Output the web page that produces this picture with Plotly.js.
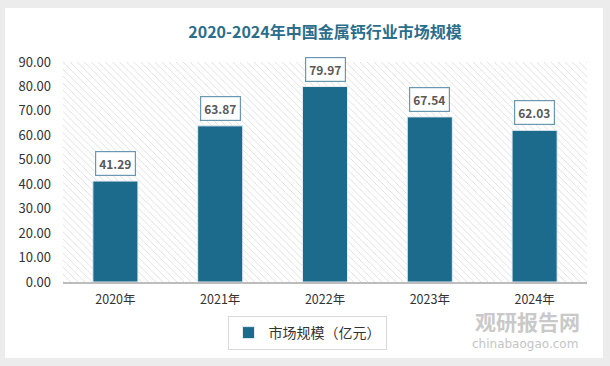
<!DOCTYPE html>
<html><head><meta charset="utf-8">
<script src="https://cdn.plot.ly/plotly-3.0.1.min.js"></script>
<style>html,body{margin:0;padding:0;background:#ececec}#c{width:610px;height:366px}</style>
</head><body><div id="c"></div>
<script>
const categories = ['2020年','2021年','2022年','2023年','2024年'];
const values = [41.29, 63.87, 79.97, 67.54, 62.03];
const seriesName = '市场规模（亿元）';
const titleText = '2020-2024年中国金属钙行业市场规模';
const yMax = 90;

const W = 610, H = 366;
const font = '"Noto Sans CJK SC", "Noto Sans", sans-serif';
const barColor = '#1c6a8c';

const bg = {
  type: 'bar', x: categories, y: categories.map(() => yMax), width: 1,
  marker: {color: '#ffffff', line: {width: 0},
    pattern: {shape: '\\', fgcolor: '#d6d6d6', bgcolor: '#ffffff', size: 5, solidity: 0.15}},
  showlegend: false, hoverinfo: 'skip'
};
const bars = {
  type: 'bar', x: categories, y: values, name: seriesName, width: 0.43,
  marker: {color: barColor, line: {color: '#e4ecf0', width: 1}},
  hoverinfo: 'skip'
};

const annotations = values.map((v, i) => ({
  x: categories[i], y: v, xref: 'x', yref: 'y', yanchor: 'bottom', yshift: 5,
  text: '<b>' + v.toFixed(2) + '</b>', showarrow: false,
  font: {family: font, size: 12, color: '#595959'},
  bgcolor: '#ffffff', bordercolor: '#6a98b0', borderwidth: 1.2, borderpad: 3
}));
annotations.push({
  xref: 'paper', yref: 'paper', x: (527 - 63) / 524, y: -(321 - 282) / 220,
  text: '<b>观研报告网</b>', showarrow: false, xanchor: 'center', yanchor: 'middle',
  font: {family: font, size: 21, color: '#c9c9c9'}, borderpad: 0
});
annotations.push({
  xref: 'paper', yref: 'paper', x: (525 - 63) / 524, y: -(344 - 282) / 220,
  text: 'chinabaogao.com', showarrow: false, xanchor: 'center', yanchor: 'middle',
  font: {family: '"DejaVu Sans", sans-serif', size: 12, color: '#c4c4c4'}, borderpad: 0
});

const layout = {
  width: W, height: H,
  paper_bgcolor: '#ececec', plot_bgcolor: 'rgba(0,0,0,0)',
  margin: {l: 63, r: 23, t: 62, b: 84},
  barmode: 'overlay',
  title: {text: '<b>' + titleText + '</b>', x: 0.5, xanchor: 'center', xref: 'paper',
    y: 1 - 32 / H, yanchor: 'middle',
    font: {family: font, size: 16, color: '#2b6d8c'}},
  xaxis: {type: 'category', showgrid: false, zeroline: false, showline: true,
    linecolor: '#bdbdbd', linewidth: 1.5, ticks: '', fixedrange: true,
    ticklabelstandoff: 5,
    tickfont: {family: font, size: 12.5, color: '#333333'}},
  yaxis: {range: [0, yMax], dtick: 10, tickformat: '.2f', showgrid: false,
    zeroline: false, showline: false, ticks: '', fixedrange: true,
    ticklabelstandoff: 11,
    tickfont: {family: font, size: 13, color: '#333333'}},
  showlegend: true,
  legend: {orientation: 'h', x: (307 - 63) / 524, xanchor: 'center',
    y: -(333 - 282) / 220, yanchor: 'middle', itemwidth: 30,
    bgcolor: '#ffffff', bordercolor: '#d9d9d9', borderwidth: 1,
    font: {family: font, size: 14, color: '#333333'}},
  shapes: [{type: 'rect', xref: 'paper', yref: 'paper', layer: 'below',
    x0: -58 / 524, x1: (603 - 63) / 524, y0: -(358 - 282) / 220, y1: (282 - 8) / 220,
    fillcolor: '#ffffff', line: {width: 0}}],
  annotations: annotations
};
Plotly.newPlot('c', [bg, bars], layout, {displayModeBar: false, staticPlot: true});
</script></body></html>
